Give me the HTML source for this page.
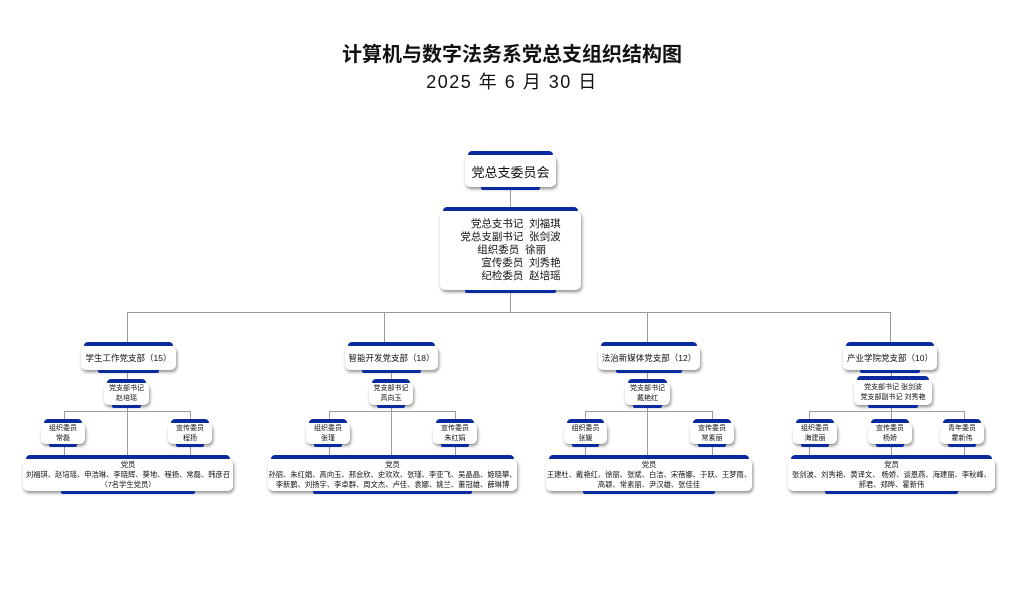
<!DOCTYPE html>
<html><head><meta charset="utf-8"><style>
body{margin:0;width:1024px;height:598px;background:#fff;position:relative;overflow:hidden;font-family:"Liberation Sans","Noto Sans CJK SC",sans-serif;color:#111}
.t{position:absolute;left:0;width:1024px;text-align:center}
.b{position:absolute;background:#fff;border-radius:5px;box-shadow:1px 2px 3px rgba(0,0,0,.45);text-align:center;display:flex;flex-direction:column;justify-content:center}
.b::before{content:"";position:absolute;left:3px;right:3px;top:-4px;height:4px;background:#0a2aa0;border-radius:6px 6px 0 0}
.b::after{content:"";position:absolute;left:18%;right:18%;bottom:-3px;height:3px;background:#0a2aa0;border-radius:0 0 2px 2px}
.l{position:absolute;background:#9a9a9a}
.s{font-size:7px;line-height:10px}
.m{font-size:7.3px;line-height:10px}
</style></head><body>
<div class="t" style="top:38px;font-size:20px;font-weight:bold">计算机与数字法务系党总支组织结构图</div>
<div class="t" style="top:68px;font-size:18px;letter-spacing:1.5px">2025 年 6 月 30 日</div>

<div class="l" style="left:510px;top:186px;width:1px;height:126px"></div>
<div class="l" style="left:127px;top:312px;width:764px;height:1px"></div>
<div class="l" style="left:127px;top:312px;width:1px;height:32px"></div>
<div class="l" style="left:384px;top:312px;width:1px;height:32px"></div>
<div class="l" style="left:647px;top:312px;width:1px;height:32px"></div>
<div class="l" style="left:890px;top:312px;width:1px;height:32px"></div>

<div class="l" style="left:127px;top:370px;width:1px;height:85px"></div>
<div class="l" style="left:64px;top:411px;width:126px;height:1px"></div>
<div class="l" style="left:64px;top:411px;width:1px;height:45px"></div>
<div class="l" style="left:190px;top:411px;width:1px;height:45px"></div>

<div class="l" style="left:391px;top:370px;width:1px;height:85px"></div>
<div class="l" style="left:329px;top:411px;width:126px;height:1px"></div>
<div class="l" style="left:329px;top:411px;width:1px;height:45px"></div>
<div class="l" style="left:455px;top:411px;width:1px;height:45px"></div>

<div class="l" style="left:647px;top:370px;width:1px;height:85px"></div>
<div class="l" style="left:585px;top:411px;width:127px;height:1px"></div>
<div class="l" style="left:585px;top:411px;width:1px;height:45px"></div>
<div class="l" style="left:712px;top:411px;width:1px;height:45px"></div>

<div class="l" style="left:891px;top:370px;width:1px;height:85px"></div>
<div class="l" style="left:809px;top:411px;width:155px;height:1px"></div>
<div class="l" style="left:809px;top:411px;width:1px;height:45px"></div>
<div class="l" style="left:964px;top:411px;width:1px;height:45px"></div>

<div class="b" style="left:465px;top:155px;width:91px;height:32px;font-size:13px">党总支委员会</div>
<div class="b" style="left:440px;top:211px;width:141px;height:79px;font-size:10.5px;line-height:13px;align-items:center">
<div style="text-align:right;display:inline-block">党总支书记&nbsp;&nbsp;刘福琪<br>党总支副书记&nbsp;&nbsp;张剑波<br>组织委员&nbsp;&nbsp;徐丽&nbsp;&nbsp;&nbsp;&nbsp;&nbsp;<br>宣传委员&nbsp;&nbsp;刘秀艳<br>纪检委员&nbsp;&nbsp;赵培瑶</div></div>

<div class="b" style="left:81px;top:346px;width:95px;height:24px;font-size:8.5px">学生工作党支部（15）</div>
<div class="b" style="left:345px;top:346px;width:93px;height:24px;font-size:8.5px">智能开发党支部（18）</div>
<div class="b" style="left:598px;top:346px;width:102px;height:24px;font-size:8.5px">法治新媒体党支部（12）</div>
<div class="b" style="left:843px;top:346px;width:94px;height:24px;font-size:8.5px">产业学院党支部（10）</div>

<div class="b s" style="left:104px;top:383px;width:45px;height:22px">党支部书记<br>赵培瑶</div>
<div class="b s" style="left:369px;top:383px;width:44px;height:22px">党支部书记<br>高向玉</div>
<div class="b s" style="left:625px;top:383px;width:45px;height:22px">党支部书记<br>戴艳红</div>
<div class="b s" style="left:854px;top:380px;width:78px;height:25px">党支部书记&nbsp;张剑波<br>党支部副书记&nbsp;刘秀艳</div>

<div class="b s" style="left:41px;top:423px;width:44px;height:21px">组织委员<br>常磊</div>
<div class="b s" style="left:168px;top:423px;width:44px;height:21px">宣传委员<br>程扬</div>
<div class="b s" style="left:306px;top:423px;width:44px;height:21px">组织委员<br>张瑾</div>
<div class="b s" style="left:433px;top:423px;width:44px;height:21px">宣传委员<br>朱红娟</div>
<div class="b s" style="left:564px;top:423px;width:43px;height:21px">组织委员<br>张媛</div>
<div class="b s" style="left:690px;top:423px;width:44px;height:21px">宣传委员<br>常素丽</div>
<div class="b s" style="left:793px;top:423px;width:44px;height:21px">组织委员<br>海建丽</div>
<div class="b s" style="left:868px;top:423px;width:44px;height:21px">宣传委员<br>杨娇</div>
<div class="b s" style="left:940px;top:423px;width:44px;height:21px">青年委员<br>霍新伟</div>

<div class="b m" style="left:23px;top:459px;width:210px;height:32px">党员<br>刘福琪、赵培瑶、申浩琳、李晓辉、葵地、程扬、常磊、韩彦召<br>（7名学生党员）</div>
<div class="b m" style="left:268px;top:459px;width:249px;height:32px">党员<br>孙丽、朱红娟、高向玉、邢会欣、史欢欢、张瑾、李亚飞、吴晶晶、姬晓攀、<br>李新鹏、刘扬宇、李卓群、周文杰、卢佳、袁娜、姚兰、董冠雄、薛琳博</div>
<div class="b m" style="left:546px;top:459px;width:206px;height:32px">党员<br>王建杜、戴艳红、徐丽、张斌、白洁、宋蓓娜、于跃、王梦雨、<br>高颖、常素丽、尹汉雄、张佳佳</div>
<div class="b m" style="left:788px;top:459px;width:207px;height:32px">党员<br>张剑波、刘秀艳、黄译文、 杨娇、谈恩燕、海建丽、李秋峰、<br>郝君、郑晔、霍新伟</div>
</body></html>
